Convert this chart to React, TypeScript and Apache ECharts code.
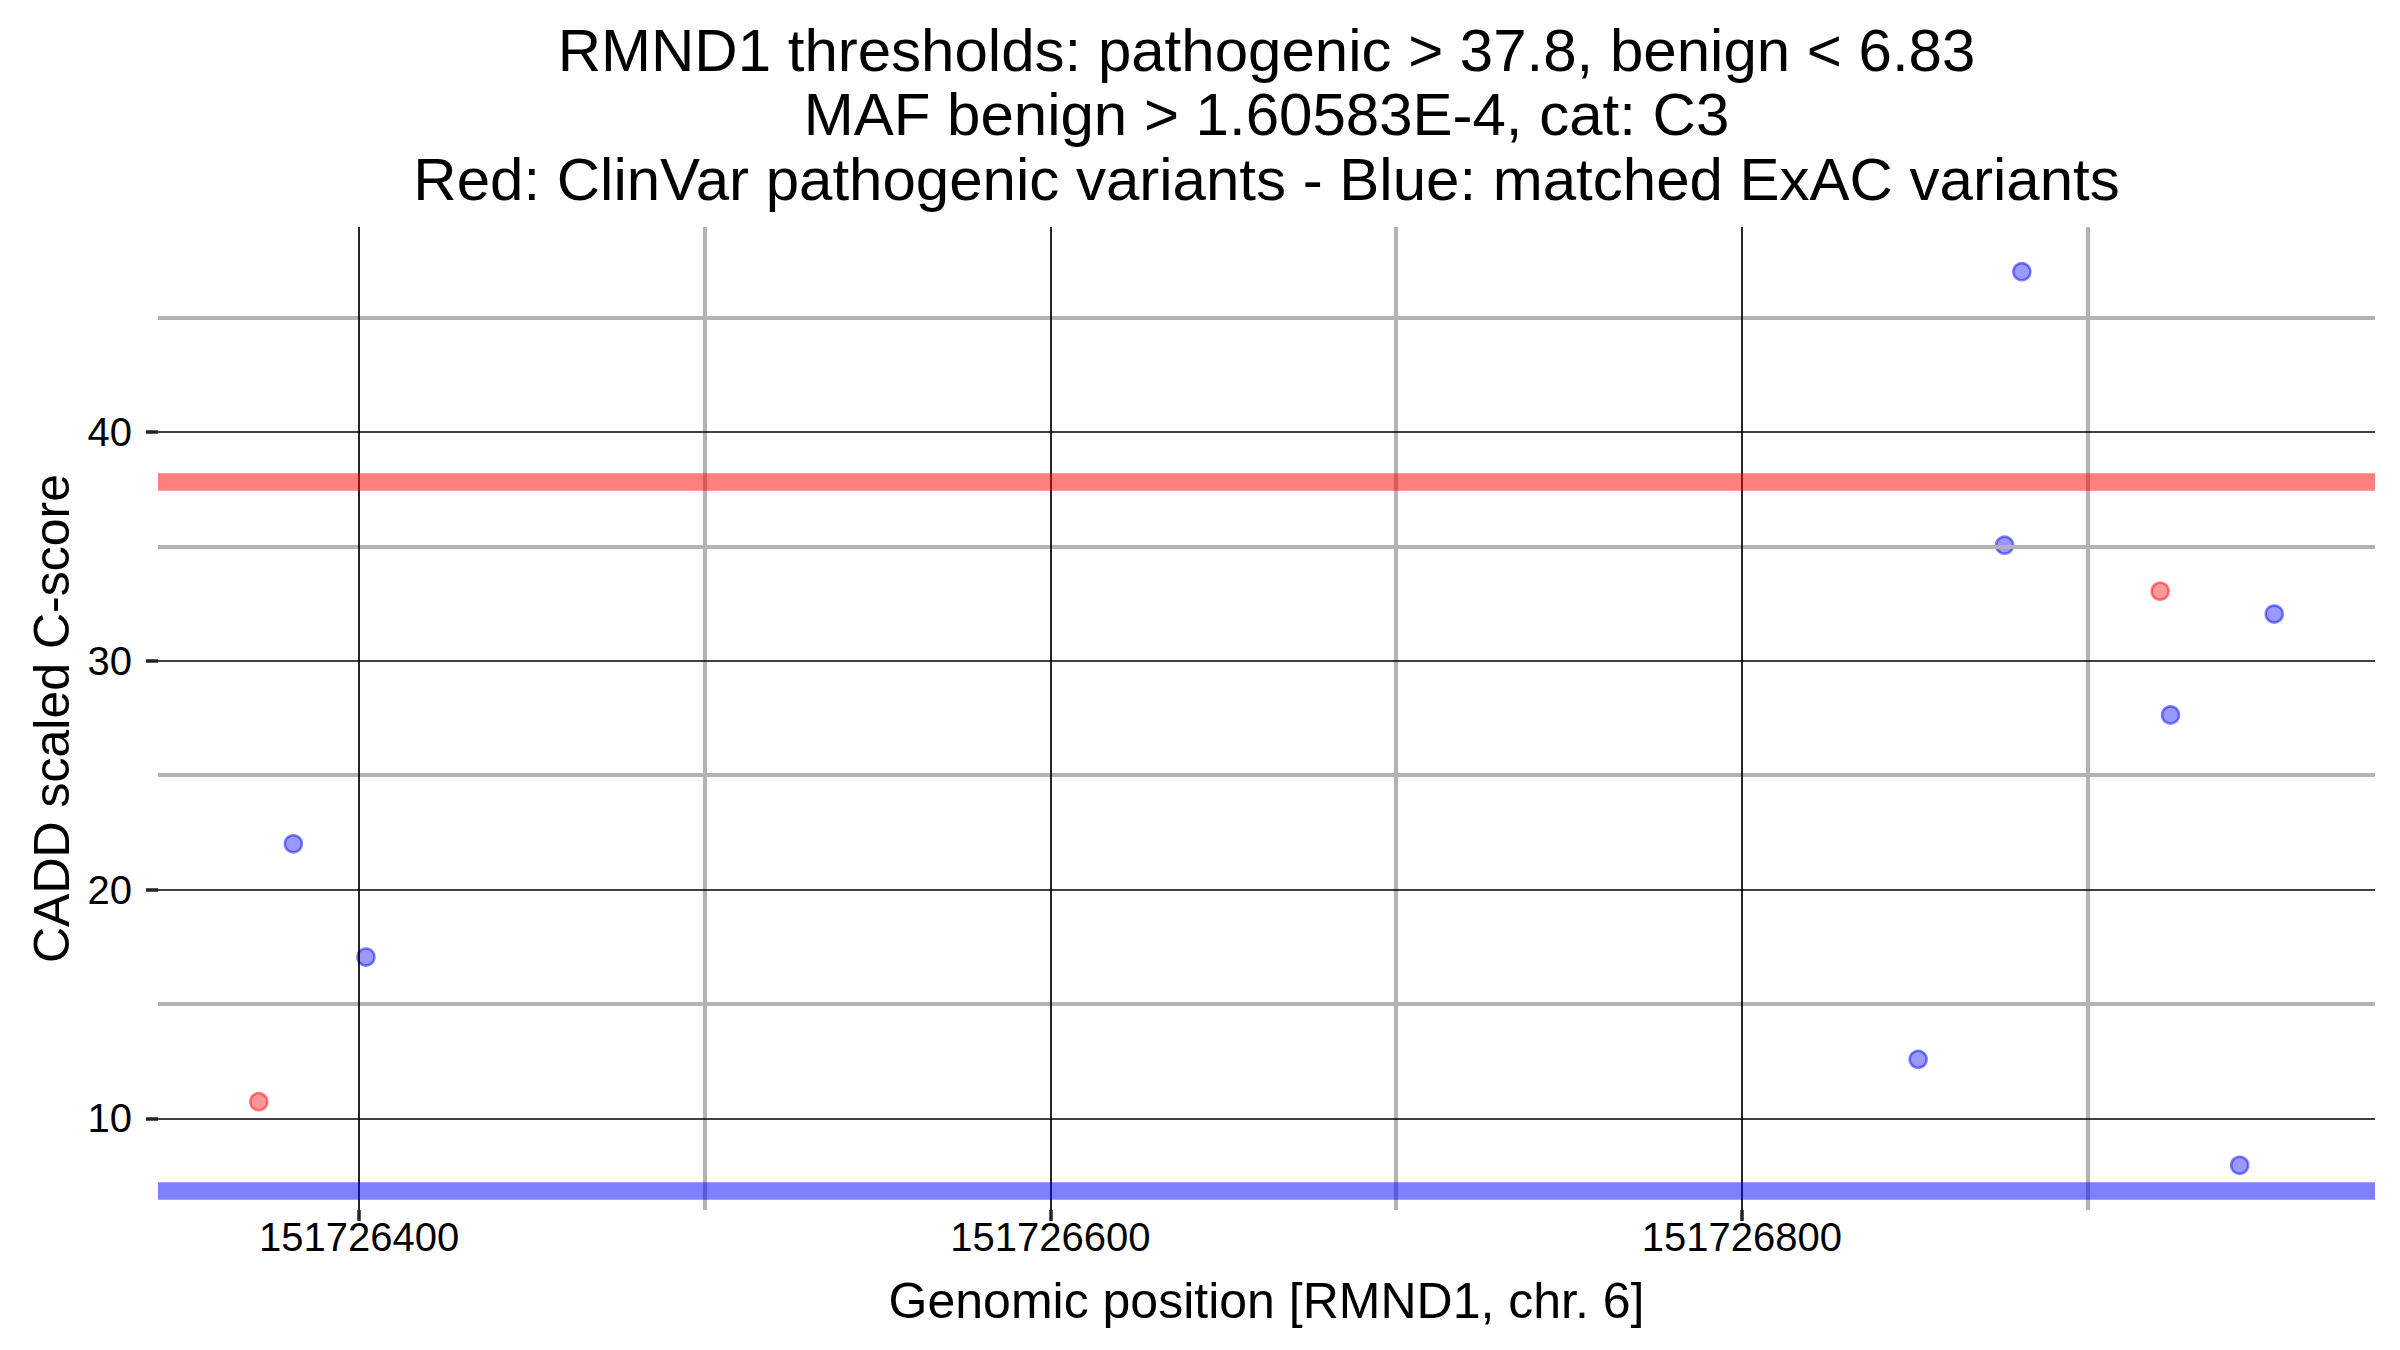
import React, { useEffect, useRef } from "react";
import * as echarts from "echarts";

// ---- Data ----
const titleLines = [
  "RMND1 thresholds: pathogenic > 37.8, benign < 6.83",
  "MAF benign > 1.60583E-4, cat: C3",
  "Red: ClinVar pathogenic variants - Blue: matched ExAC variants",
];
const xAxisTitle = "Genomic position [RMND1, chr. 6]";
const yAxisTitle = "CADD scaled C-score";

const clinvarPositions = [151726371, 151726921];
const clinvarScores = [10.73, 33.04];

const exacPositions = [151726381, 151726402, 151726851, 151726876, 151726881, 151726924, 151726944, 151726954];
const exacScores = [22.0, 17.05, 12.58, 35.05, 47.0, 27.63, 7.95, 32.04];

const pathogenicThreshold = 37.8;
const benignThreshold = 6.83;

const xMajorTicks = [151726400, 151726600, 151726800];
const xMinorTicks = [151726500, 151726700, 151726900];
const yMajorTicks = [10, 20, 30, 40];
const yMinorTicks = [15, 25, 35, 45];

const FONT = "'Liberation Sans', Arial, Helvetica, sans-serif";

function expandRange(vals: number[]) {
  const lo = Math.min(...vals);
  const hi = Math.max(...vals);
  const pad = (hi - lo) * 0.05;
  return [lo - pad, hi + pad];
}

export default function App() {
  const ref = useRef<HTMLDivElement>(null);

  useEffect(() => {
    if (!ref.current) return;
    const chart = echarts.init(ref.current, undefined, { renderer: "svg" });

    const [xMin, xMax] = expandRange([...clinvarPositions, ...exacPositions]);
    const [yMin, yMax] = expandRange([...clinvarScores, ...exacScores]);

    const gridLeft = 158;
    const gridRight = 25;
    const gridTop = 227;
    const gridBottom = 140;
    const plotCenterX = gridLeft + (2400 - gridLeft - gridRight) / 2;

    const majorStyle = { color: "#000000", width: 1.7, type: "solid" as const };
    const minorStyle = { color: "#b3b3b3", width: 4.2, type: "solid" as const };

    const gridLines = [
      ...yMinorTicks.map((v) => ({ yAxis: v, lineStyle: minorStyle })),
      ...xMinorTicks.map((v) => ({ xAxis: v, lineStyle: minorStyle })),
      ...yMajorTicks.map((v) => ({ yAxis: v, lineStyle: majorStyle })),
      ...xMajorTicks.map((v) => ({ xAxis: v, lineStyle: majorStyle })),
    ];

    const option: any = {
      animation: false,
      backgroundColor: "#ffffff",
      textStyle: { fontFamily: FONT },
      graphic: titleLines.map((t, i) => ({
        type: "text",
        x: plotCenterX,
        y: 50.5 + i * 64.3,
        style: {
          text: t,
          font: `60px ${FONT}`,
          fill: "#000000",
          textAlign: "center",
          textVerticalAlign: "middle",
        },
        z: 10,
      })),
      grid: {
        left: gridLeft,
        right: gridRight,
        top: gridTop,
        bottom: gridBottom,
        containLabel: false,
      },
      xAxis: {
        type: "value",
        min: xMin,
        max: xMax,
        name: xAxisTitle,
        nameLocation: "middle",
        nameGap: 66,
        nameTextStyle: { fontSize: 50, color: "#000000", fontFamily: FONT },
        axisLine: { show: false },
        splitLine: { show: false },
        axisTick: {
          show: true,
          customValues: xMajorTicks,
          length: 11,
          lineStyle: { color: "#222222", width: 3.5 },
        },
        axisLabel: {
          customValues: xMajorTicks,
          formatter: (v: number) => String(Math.round(v)),
          fontSize: 40,
          color: "#000000",
          fontFamily: FONT,
          margin: 7,
        },
      },
      yAxis: {
        type: "value",
        min: yMin,
        max: yMax,
        name: yAxisTitle,
        nameLocation: "middle",
        nameGap: 79,
        nameRotate: 90,
        nameTextStyle: { fontSize: 50, color: "#000000", fontFamily: FONT },
        axisLine: { show: false },
        splitLine: { show: false },
        axisTick: {
          show: true,
          customValues: yMajorTicks,
          length: 12,
          lineStyle: { color: "#222222", width: 3.5 },
        },
        axisLabel: {
          customValues: yMajorTicks,
          formatter: (v: number) => String(Math.round(v)),
          fontSize: 40,
          color: "#000000",
          fontFamily: FONT,
          margin: 26,
        },
      },
      series: [
        {
          name: "grid",
          type: "scatter",
          data: [],
          z: 1,
          silent: true,
          markLine: {
            silent: true,
            symbol: ["none", "none"],
            label: { show: false },
            emphasis: { disabled: true },
            data: gridLines,
          },
        },
        {
          name: "thresholds",
          type: "scatter",
          data: [],
          z: 2,
          silent: true,
          markLine: {
            silent: true,
            symbol: ["none", "none"],
            label: { show: false },
            emphasis: { disabled: true },
            data: [
              { yAxis: pathogenicThreshold, lineStyle: { color: "rgba(255,0,0,0.5)", width: 17.6, type: "solid" } },
              { yAxis: benignThreshold, lineStyle: { color: "rgba(0,0,255,0.5)", width: 17.6, type: "solid" } },
            ],
          },
        },
        {
          name: "ClinVar pathogenic",
          type: "scatter",
          z: 3,
          symbol: "circle",
          symbolSize: 17,
          itemStyle: { color: "rgba(255,0,0,0.5)", borderColor: "rgba(255,0,0,0.6)", borderWidth: 2.6 },
          data: clinvarPositions.map((p, i) => [p, clinvarScores[i]]),
        },
        {
          name: "ExAC matched",
          type: "scatter",
          z: 3,
          symbol: "circle",
          symbolSize: 17,
          itemStyle: { color: "rgba(0,0,255,0.5)", borderColor: "rgba(0,0,255,0.6)", borderWidth: 2.6 },
          data: exacPositions.map((p, i) => [p, exacScores[i]]),
        },
      ],
    };

    chart.setOption(option);
    return () => chart.dispose();
  }, []);

  return (
    <div
      ref={ref}
      style={{ position: "fixed", left: 0, top: 0, width: 2400, height: 1350, background: "#ffffff" }}
    />
  );
}
